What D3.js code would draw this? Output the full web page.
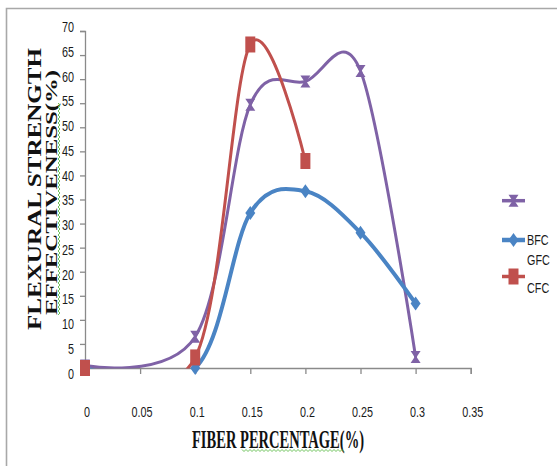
<!DOCTYPE html>
<html><head><meta charset="utf-8">
<script src="https://cdn.jsdelivr.net/npm/d3@7"></script>
<style>
html,body{margin:0;padding:0;background:#fff;}
svg{display:block;}
</style></head>
<body>
<svg id="chart" width="557" height="466"></svg>
<script>
// ---- data ----
const xTicks = [0, 0.05, 0.1, 0.15, 0.2, 0.25, 0.3, 0.35];
const xTickLabels = ["0", "0.05", "0.1", "0.15", "0.2", "0.25", "0.3", "0.35"];
const yTicks = [0, 5, 10, 15, 20, 25, 30, 35, 40, 45, 50, 55, 60, 65, 70];
const seriesNames = ["", "BFC", "GFC\nCFC"];
const xPurple = [0, 0.1, 0.15, 0.2, 0.25, 0.3];
const yPurple = [0.5, 6.5, 54.7, 59.5, 61.7, 2.3];
const xBlue = [0, 0.1, 0.15, 0.2, 0.25, 0.3];
const yBlue = [0, 0, 32.2, 36.7, 28.1, 13.4];
const xRed = [0, 0.1, 0.15, 0.2];
const yRed = [0, 2.2, 67.2, 43];
const xTitle = "FIBER PERCENTAGE(%)";
const yTitle1 = "FLEXURAL  STRENGTH";
const yTitle2 = "EFFECTIVENESS(%)";

const colors = ["#7F62A6", "#4A84C4", "#C0504D"];

const svg = d3.select("#chart");

function squeeze(sel, factor) {
  sel.each(function() {
    const w = this.getComputedTextLength();
    d3.select(this).attr("textLength", w * factor).attr("lengthAdjust", "spacingAndGlyphs");
  });
}

// frame
svg.append("path").attr("d", "M6.5,470 L6.5,8.5 L560,8.5")
  .attr("fill", "none").attr("stroke", "#A8A8A8").attr("stroke-width", 1.6);

const x = d3.scaleLinear().domain([0, 0.35]).range([85, 470.7]);
const y = d3.scaleLinear().domain([0, 70]).range([368, 31]);
const yLab = d3.scaleLinear().domain([0, 70]).range([373.3, 26.7]);
const xLabY = 412;

// plot-area clip (lines are clipped like in the spreadsheet chart)
svg.append("defs").append("clipPath").attr("id", "plotclip")
  .append("rect").attr("x", x(0) - 2).attr("y", y(70) - 10)
  .attr("width", x(0.35) - x(0) + 4).attr("height", y(0) - y(70) + 10.5);

const axisColor = "#8A8A8A";

// y axis
const yAxis = svg.append("g").attr("transform", "translate(85,0)")
  .call(d3.axisLeft(y).tickValues(yTicks).tickSize(5).tickFormat(""));
yAxis.select(".domain").attr("stroke", axisColor).attr("stroke-width", 1.3);
yAxis.selectAll(".tick line").attr("stroke", axisColor).attr("stroke-width", 1.3);

// x axis
const xAxis = svg.append("g").attr("transform", "translate(0,368)")
  .call(d3.axisBottom(x).tickValues(xTicks).tickSize(6).tickFormat(""));
xAxis.select(".domain").attr("stroke", axisColor).attr("stroke-width", 1.3);
xAxis.selectAll(".tick line").attr("stroke", axisColor).attr("stroke-width", 1.3);

// y tick labels
const yl = svg.append("g").selectAll("text").data(yTicks).join("text")
  .attr("x", 74).attr("y", d => yLab(d)).attr("dy", "0.36em")
  .attr("text-anchor", "end")
  .attr("font-family", "Liberation Sans, Arial, sans-serif")
  .attr("font-size", 15).attr("fill", "#1a1a1a")
  .text(d => d);
squeeze(yl, 0.72);

// x tick labels
const xl = svg.append("g").selectAll("text").data(xTicks).join("text")
  .attr("x", (d) => x(d) + 2).attr("y", xLabY).attr("dy", "0.36em")
  .attr("text-anchor", "middle")
  .attr("font-family", "Liberation Sans, Arial, sans-serif")
  .attr("font-size", 15).attr("fill", "#1a1a1a")
  .text((d, i) => xTickLabels[i]);
squeeze(xl, 0.72);

// axis titles
svg.append("text").attr("x", 278).attr("y", 448)
  .attr("text-anchor", "middle")
  .attr("font-family", "Liberation Serif, Times New Roman, serif")
  .attr("font-weight", "bold").attr("font-size", 26).attr("fill", "#111")
  .attr("textLength", 172).attr("lengthAdjust", "spacingAndGlyphs")
  .text(xTitle);

svg.append("text").attr("transform", "translate(40.5,189) rotate(-90)")
  .attr("text-anchor", "middle")
  .attr("font-family", "Liberation Serif, Times New Roman, serif")
  .attr("font-weight", "bold").attr("font-size", 19).attr("fill", "#111")
  .attr("textLength", 282).attr("lengthAdjust", "spacingAndGlyphs")
  .text(yTitle1);
svg.append("text").attr("transform", "translate(57,192.5) rotate(-90)")
  .attr("text-anchor", "middle")
  .attr("font-family", "Liberation Serif, Times New Roman, serif")
  .attr("font-weight", "bold").attr("font-size", 17).attr("fill", "#111")
  .attr("textLength", 245).attr("lengthAdjust", "spacingAndGlyphs")
  .text(yTitle2);

// spell-check squiggles
function squiggle(x0, y0, len, vertical) {
  let d = "";
  const step = 2;
  for (let i = 0; i <= len; i += step) {
    const off = (i / step) % 2 === 0 ? -1 : 1;
    const px = vertical ? x0 + off : x0 + i;
    const py = vertical ? y0 - i : y0 + off;
    d += (i === 0 ? "M" : "L") + px + "," + py;
  }
  svg.append("path").attr("d", d).attr("fill", "none")
    .attr("stroke", "#5DBB4A").attr("stroke-width", 0.9);
}
squiggle(242, 450.5, 102, false);
squiggle(59, 315, 212, true);

// series
const line = d3.line().x(d => x(d[0])).y(d => y(d[1])).curve(d3.curveCardinal.tension(0));

const series = [
  { xs: xPurple, ys: yPurple, color: colors[0], width: 3, marker: "hour" },
  { xs: xBlue, ys: yBlue, color: colors[1], width: 4, marker: "diamond" },
  { xs: xRed, ys: yRed, color: colors[2], width: 3, marker: "square" }
];

function markerPath(type) {
  if (type === "hour") return "M-5,-6L5,-6L1,0L5,6L-5,6L-1,0Z";
  if (type === "diamond") return "M0,-7L5,0L0,7L-5,0Z";
  return "M-5,-8L5,-8L5,8L-5,8Z";
}

series.forEach(s => {
  const pts = s.xs.map((v, i) => [v, s.ys[i]]);
  svg.append("path").datum(pts).attr("d", line)
    .attr("clip-path", "url(#plotclip)")
    .attr("fill", "none").attr("stroke", s.color)
    .attr("stroke-width", s.width).attr("stroke-linejoin", "round").attr("stroke-linecap", "round");
  svg.append("g").selectAll("path").data(pts).join("path")
    .attr("transform", d => `translate(${x(d[0])},${y(d[1])})`)
    .attr("d", markerPath(s.marker)).attr("fill", s.color);
});

// legend
const legY = [200.7, 240, 276.5];
const lg = svg.append("g");
series.forEach((s, i) => {
  lg.append("line").attr("x1", 502).attr("x2", 525).attr("y1", legY[i]).attr("y2", legY[i])
    .attr("stroke", s.color).attr("stroke-width", s.width + 0.5);
  lg.append("path").attr("transform", `translate(513.5,${legY[i]})`)
    .attr("d", markerPath(s.marker)).attr("fill", s.color);
  const lines = seriesNames[i].split("\n").filter(t => t.length);
  lines.forEach((t, j) => {
    const ty = lines.length > 1 ? legY[i] + (j === 0 ? -16.5 : 11.5) : legY[i];
    const te = lg.append("text").attr("x", 527).attr("y", ty)
      .attr("dy", "0.36em")
      .attr("font-family", "Liberation Sans, Arial, sans-serif")
      .attr("font-size", 15).attr("fill", "#1a1a1a").text(t);
    squeeze(te, 0.72);
  });
});
</script>
</body></html>
